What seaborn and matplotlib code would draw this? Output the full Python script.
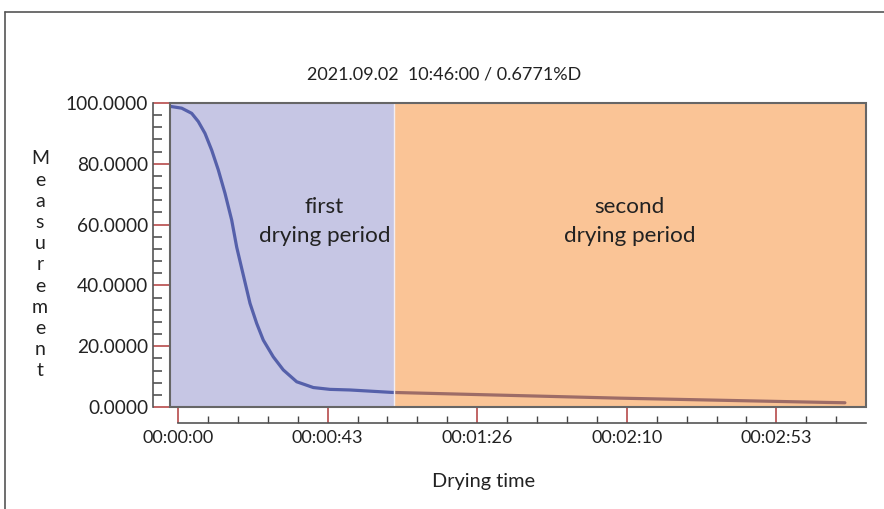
import matplotlib
matplotlib.use("Agg")
import matplotlib.pyplot as plt
from matplotlib.lines import Line2D
from matplotlib.patches import Rectangle
from matplotlib.ticker import FixedLocator, MultipleLocator
import seaborn as sns
import pandas as pd

# ---- data ----
time_s = [-2.3, 1.07, 3.96, 5.87, 7.81, 9.74, 11.65, 13.59, 15.52, 16.97, 18.42,
          20.82, 22.75, 24.66, 27.55, 30.44, 34.32, 39.12, 43.94, 49.72, 61.8,
          128.0, 187.5, 192.8]
measurement = [98.9, 98.3, 96.6, 93.9, 90.0, 84.5, 78.0, 70.3, 61.5, 52.6, 45.6,
               34.1, 27.5, 22.0, 16.5, 12.2, 8.3, 6.4, 5.8, 5.6, 4.8,
               2.9, 1.5, 1.4]
major_ticks_s = [0, 43.25, 86.5, 129.75, 173.0]
tick_labels = ["00:00:00", "00:00:43", "00:01:26", "00:02:10", "00:02:53"]
y_ticks = [0, 20, 40, 60, 80, 100]
period_split_s = 62.4
title = "2021.09.02  10:46:00 / 0.6771%D"
period_labels = ["first\ndrying period", "second\ndrying period"]

df = pd.DataFrame({"time": time_s, "value": measurement})

sns.set_style("white")
plt.rcParams["font.family"] = ["Lato", "DejaVu Sans"]

fig = plt.figure(figsize=(8.84, 5.09), dpi=100)
ax = fig.add_axes([170 / 884, 1 - 407 / 509, 696 / 884, 304 / 509])

xmin, xmax = -2.31, 198.9
ax.set_xlim(xmin, xmax)
ax.set_ylim(0, 100)

ax.axvspan(xmin, period_split_s, color="#c6c6e4", zorder=0, lw=0)
sns.lineplot(data=df, x="time", y="value", ax=ax, color="#5560aa", lw=2.3,
             zorder=2, legend=False, sort=True)
ax.axvspan(period_split_s, xmax, color="#f67c16", alpha=0.45, zorder=3, lw=0)
ax.axvline(period_split_s, color="#f3eef2", lw=1.0, zorder=4)

ax.add_patch(Rectangle((0, 0), 1, 1, transform=ax.transAxes, fill=False,
                       edgecolor="#666666", lw=1.5, zorder=6, clip_on=False))

# spines
for s in ["top", "right"]:
    ax.spines[s].set_visible(False)
ax.spines["left"].set_position(("outward", 12.2))
ax.spines["bottom"].set_position(("outward", 11.5))
ax.spines["bottom"].set_bounds(0, xmax)
for s in ["left", "bottom"]:
    ax.spines[s].set_color("#555555")
    ax.spines[s].set_linewidth(1.2)

# y ticks
ax.yaxis.set_major_locator(FixedLocator(y_ticks))
ax.yaxis.set_minor_locator(MultipleLocator(4))
ax.set_yticklabels([f"{v:.4f}" for v in y_ticks])
ax.tick_params(axis="y", which="both", left=True, right=False)
ax.tick_params(axis="y", which="major", direction="in", length=12.2, width=1.1,
               color="#b03a3a", pad=3.6, labelsize=13.8, labelcolor="#222222")
ax.tick_params(axis="y", which="minor", direction="in", length=6.5, width=1.1,
               color="#444444")

# x ticks
ax.xaxis.set_major_locator(FixedLocator(major_ticks_s))
ax.xaxis.set_minor_locator(MultipleLocator(43.25 / 5))
ax.set_xticklabels(tick_labels)
ax.tick_params(axis="x", which="both", bottom=True, top=False)
ax.tick_params(axis="x", which="major", direction="in", length=11.5, width=1.1,
               color="#b03a3a", pad=5, labelsize=13, labelcolor="#222222")
ax.tick_params(axis="x", which="minor", direction="in", length=5, width=1.0,
               color="#444444")
ax.set_xlabel("")
ax.set_ylabel("")

# period labels
ax.text(42.3, 61.0, period_labels[0], ha="center", va="center", fontsize=16.2,
        color="#222222", linespacing=1.6, zorder=7)
ax.text(130.5, 61.0, period_labels[1], ha="center", va="center", fontsize=16.2,
        color="#222222", linespacing=1.6, zorder=7)

# title and axis labels
fig.text(444 / 884, 1 - 74 / 509, title, ha="center", va="center", fontsize=13,
         color="#222222")
fig.text(484 / 884, 1 - 482 / 509, "Drying time", ha="center", va="center",
         fontsize=14.4, color="#222222")
fig.text(40 / 884, 1 - 265 / 509, "\n".join("Measurement"), ha="center",
         va="center", fontsize=14, color="#222222", linespacing=1.3)

# outer frame (top and left)
fig.add_artist(Line2D([5 / 884, 1], [1 - 12 / 509, 1 - 12 / 509],
                      transform=fig.transFigure, color="#555555", lw=1.2))
fig.add_artist(Line2D([5 / 884, 5 / 884], [0, 1 - 12 / 509],
                      transform=fig.transFigure, color="#555555", lw=1.2))

fig.savefig("out.png", dpi=100, facecolor="white")
